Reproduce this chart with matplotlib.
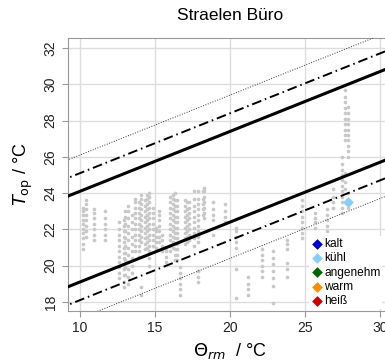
import numpy as np
import matplotlib
matplotlib.use("Agg")
import matplotlib.pyplot as plt

plt.rcParams["font.family"] = ["Liberation Sans", "DejaVu Sans"]

# running mean outdoor temperature (x) and hourly operative temperatures (y) per day
col_x = [10.2, 10.4, 10.9, 11.7, 12.6, 12.9, 13.0, 13.2, 13.5, 13.7, 13.95, 14.1,
         14.3, 14.45, 14.6, 14.9, 15.1, 15.3, 15.5, 15.75, 16.0, 16.2, 16.35, 16.5,
         16.7, 17.0, 17.15, 17.3, 17.6, 17.9, 18.2, 18.3, 18.9, 19.7, 20.4, 21.2,
         22.1, 22.9, 23.8, 24.8, 25.7, 26.5, 26.9, 27.5, 27.7, 27.9]
col_y = [
    [20.9, 21.2, 21.5, 21.8, 22.0, 22.3, 22.5, 22.8, 23.0, 23.2],
    [21.6, 21.9, 22.2, 22.5, 22.8, 23.1, 23.4, 23.6],
    [21.4, 21.7, 22.0, 22.3, 22.6, 22.9, 23.1],
    [21.4, 21.7, 22.0, 22.3, 22.6, 23.0],
    [19.3, 19.6, 19.9, 20.2, 20.5, 20.8, 21.1, 21.4, 21.7, 22.0, 22.4],
    [18.8, 19.1, 19.5, 19.8, 20.1, 20.4, 20.7, 21.0, 21.3, 21.6, 21.9, 22.2, 22.5],
    [19.5, 19.9, 20.3, 20.7, 21.1, 21.5, 21.9, 22.3, 22.7, 23.0],
    [19.0, 19.4, 19.8, 20.2, 20.6, 21.0, 21.4, 21.8, 22.2, 22.6, 23.0, 23.3],
    [19.6, 20.0, 20.4, 20.8, 21.2, 21.6, 22.0, 22.4, 22.8],
    [20.8, 21.1, 21.4, 21.7, 22.0, 22.3, 22.6, 22.9, 23.2, 23.5, 23.7],
    [20.5, 20.8, 21.1, 21.4, 21.7, 22.0, 22.3, 22.6, 22.9, 23.2, 23.5],
    [18.4, 18.8, 21.3, 21.6, 21.9, 22.2, 22.5, 22.8, 23.1, 23.4, 23.7, 23.9],
    [20.9, 21.2, 21.5, 21.8, 22.1, 22.4, 22.7, 23.0, 23.3, 23.6],
    [21.0, 21.3, 21.6, 21.9, 22.2, 22.5, 22.8, 23.1, 23.4, 23.7, 23.9],
    [20.0, 20.4, 20.8, 21.1, 21.4, 21.7, 22.0, 22.3, 22.6, 22.9, 23.2, 23.5, 23.8, 24.0],
    [21.1, 21.4, 21.7, 22.0, 22.3, 22.6, 22.9, 23.2],
    [21.0, 21.3, 21.6, 21.9, 22.1],
    [21.3, 21.6, 21.9, 22.2, 22.5, 22.8, 23.0],
    [20.8, 21.1, 21.4, 21.7],
    [20.2, 20.5, 20.8, 21.0],
    [20.8, 21.1, 21.4, 21.7, 22.0, 22.3, 22.6, 22.9, 23.2, 23.5, 23.8],
    [21.0, 21.3, 21.6, 21.9, 22.2, 22.5, 22.8, 23.1, 23.4, 23.7, 23.9],
    [20.3, 20.6, 20.9, 21.2, 21.5, 21.8, 22.1, 22.4, 22.7, 23.0, 23.3, 23.6, 24.0],
    [20.3, 20.6, 20.9, 21.2, 21.5, 21.8, 22.1, 22.4, 22.7, 23.0, 23.3, 23.6],
    [18.4, 18.7, 19.0, 19.3, 19.6, 19.9],
    [21.2, 21.5, 21.8, 22.1, 22.4, 22.7, 23.0, 23.3, 23.6],
    [21.3, 21.6, 21.9, 22.2, 22.5, 22.8, 23.1, 23.5],
    [21.4, 21.7, 22.0, 22.3, 22.6, 22.9, 23.2, 23.5],
    [21.1, 21.5, 21.8, 22.1, 22.4, 22.7, 23.0, 23.3, 23.7, 24.1],
    [19.1, 19.4, 19.7, 21.3, 21.6, 21.9, 22.2, 22.5, 22.8, 23.1, 23.4, 23.7, 24.1],
    [22.8, 23.1, 23.4, 23.7, 24.1],
    [22.6, 22.9, 23.2, 23.5, 23.8, 24.1, 24.3],
    [21.7, 22.5, 22.8, 23.1, 23.5],
    [22.4, 22.7, 23.0, 23.4],
    [18.2, 19.8, 21.0, 21.3, 21.6, 21.9, 22.1],
    [18.4, 18.7, 19.0, 19.4],
    [19.4, 19.7, 20.0, 20.3, 20.6, 20.9],
    [17.95, 18.9, 19.3, 19.7, 20.1, 20.4, 20.8],
    [19.4, 19.8, 20.15, 20.9, 21.2, 21.4],
    [21.5, 21.8, 22.1, 22.4, 22.7, 23.0, 23.3, 23.6],
    [22.1, 22.4, 22.6, 22.9],
    [21.6, 21.9, 22.2, 22.5, 22.8, 23.1],
    [23.2, 23.5, 23.8, 24.2],
    [22.9, 23.2, 23.5, 23.8, 24.1, 24.4, 24.7, 25.0, 25.3, 25.6, 26.0],
    [24.2, 24.6, 25.1, 26.9, 27.2, 27.5, 27.8, 28.1, 28.4, 28.7, 29.0, 29.3, 29.7],
    [23.2, 23.6, 24.0, 26.0, 26.3, 26.6, 26.9, 27.2, 27.5, 27.8, 28.1, 28.4, 28.75],
]

# comfort model (EN 15251): T = 0.33 * theta + 18.8, band offsets
slope, intercept = 0.33, 18.8
offsets_solid = [2, -3]
offsets_dashdot = [3, -4]
offsets_dotted = [4, -5]
theta_range = [8.5, 31.5]

# classified survey point
cat_labels = ["kalt", "kühl", "angenehm", "warm", "heiß"]
cat_colors = ["#0000cd", "#87cefa", "#006400", "#ff8c00", "#cd0000"]
vote_x = [27.85]
vote_y = [23.5]
vote_cat = ["kühl"]

fig = plt.figure(figsize=(3.85, 3.6), dpi=100)
ax = fig.add_axes([68 / 385, 49 / 360, 324 / 385, 273 / 360])

xs = np.concatenate([[x] * len(ys) for x, ys in zip(col_x, col_y)])
ys = np.concatenate(col_y)
ax.scatter(xs, ys, s=7, color="#c8c8c8", linewidths=0, zorder=2)

t = np.array(theta_range)
base = slope * t + intercept
for o in offsets_solid:
    ax.plot(t, base + o, color="black", lw=2.2, zorder=3)
for o in offsets_dashdot:
    ax.plot(t, base + o, color="black", lw=1.4, dashes=(5, 2, 0.8, 2), zorder=3)
for o in offsets_dotted:
    ax.plot(t, base + o, color="#333333", lw=0.7, dashes=(1, 1.6), zorder=3)

for lab, col in zip(cat_labels, cat_colors):
    px = [x for x, c in zip(vote_x, vote_cat) if c == lab]
    py = [y for y, c in zip(vote_y, vote_cat) if c == lab]
    ax.scatter(px, py, marker="D", s=30, color=col, linewidths=0, label=lab, zorder=4)

ax.set_xlim(9.2, 30.8)
ax.set_ylim(17.5, 32.55)
ax.set_xticks([10, 15, 20, 25, 30])
ax.set_yticks([18, 20, 22, 24, 26, 28, 30, 32])
ax.grid(color="#dddddd", lw=1, zorder=0)
ax.set_axisbelow(True)
for s in ax.spines.values():
    s.set_color("#999999")
ax.tick_params(colors="#999999", labelcolor="#222222", labelsize=10, length=4)
plt.setp(ax.get_yticklabels(), rotation=90, va="center")

ax.set_title("Straelen Büro", fontsize=12.5, pad=13)
ax.set_xlabel(r"$\Theta_{rm}$  / °C", fontsize=13, labelpad=4)
ax.set_ylabel(r"$T_{\mathrm{op}}$ / °C", fontsize=13, labelpad=6)

leg = ax.legend(loc="upper left", bbox_to_anchor=(309 / 385, 1 - 236 / 360),
                bbox_transform=fig.transFigure, fontsize=8.6, frameon=True,
                handletextpad=0.12, labelspacing=0.2, borderpad=0.15,
                handlelength=1.0, borderaxespad=0, scatterpoints=1, fancybox=False)
leg.get_frame().set_edgecolor("none")
leg.get_frame().set_facecolor("white")
leg.get_frame().set_alpha(1)

fig.savefig("out.png", dpi=100)
